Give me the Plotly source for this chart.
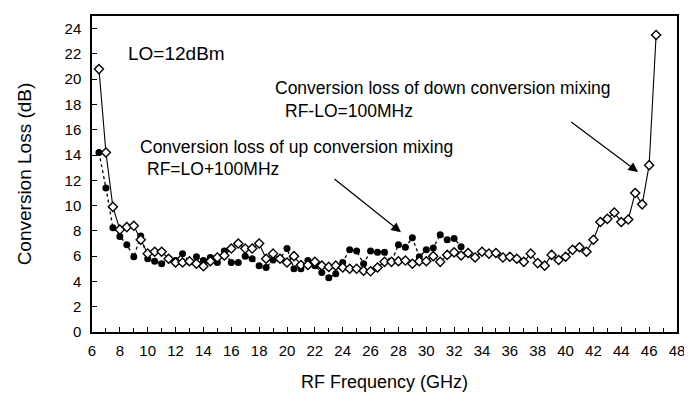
import plotly.graph_objects as go

# RF frequency (GHz)
freq_down = [6.5, 7.0, 7.5, 8.0, 8.5, 9.0, 9.5, 10.0, 10.5, 11.0, 11.5, 12.0, 12.5, 13.0, 13.5,
             14.0, 14.5, 15.0, 15.5, 16.0, 16.5, 17.0, 17.5, 18.0, 18.5, 19.0, 19.5, 20.0, 20.5,
             21.0, 21.5, 22.0, 22.5, 23.0, 23.5, 24.0, 24.5, 25.0, 25.5, 26.0, 26.5, 27.0, 27.5,
             28.0, 28.5, 29.0, 29.5, 30.0, 30.5, 31.0, 31.5, 32.0, 32.5, 33.0, 33.5, 34.0, 34.5,
             35.0, 35.5, 36.0, 36.5, 37.0, 37.5, 38.0, 38.5, 39.0, 39.5, 40.0, 40.5, 41.0, 41.5,
             42.0, 42.5, 43.0, 43.5, 44.0, 44.5, 45.0, 45.5, 46.0, 46.5]
loss_down = [20.8, 14.2, 9.9, 8.1, 8.3, 8.4, 7.3, 6.2, 6.35, 6.35, 5.8, 5.5, 5.5, 5.6, 5.4,
             5.2, 5.6, 5.9, 6.05, 6.6, 7.0, 6.6, 6.6, 7.0, 5.8, 6.2, 5.8, 5.5, 6.0,
             5.3, 5.3, 5.55, 5.25, 5.15, 5.25, 5.1, 5.0, 5.0, 4.85, 4.8, 5.1, 5.55, 5.55,
             5.6, 5.65, 5.4, 5.6, 5.6, 6.0, 5.55, 6.1, 6.3, 6.05, 6.25, 5.9, 6.35, 6.2,
             6.25, 5.9, 5.95, 5.8, 5.55, 6.2, 5.45, 5.25, 6.1, 5.7, 5.95, 6.5, 6.7, 6.35,
             7.3, 8.7, 8.95, 9.45, 8.7, 8.9, 11.0, 10.1, 13.2, 23.5]

freq_up = [6.5, 7.0, 7.5, 8.0, 8.5, 9.0, 9.5, 10.0, 10.5, 11.0, 11.5, 12.0, 12.5, 13.0, 13.5,
           14.0, 14.5, 15.0, 15.5, 16.0, 16.5, 17.0, 17.5, 18.0, 18.5, 19.0, 19.5, 20.0, 20.5,
           21.0, 21.5, 22.0, 22.5, 23.0, 23.5, 24.0, 24.5, 25.0, 25.5, 26.0, 26.5, 27.0, 27.5,
           28.0, 28.5, 29.0, 29.5, 30.0, 30.5, 31.0, 31.5, 32.0, 32.5]
loss_up = [14.2, 11.4, 8.25, 7.55, 6.9, 5.95, 7.6, 5.8, 5.6, 5.4, 5.8, 5.65, 6.2, 5.55, 5.95,
           5.65, 5.9, 5.5, 6.4, 5.5, 5.5, 6.0, 5.8, 5.25, 5.1, 5.7, 5.8, 6.6, 5.0,
           5.0, 5.65, 5.25, 4.7, 4.3, 4.6, 5.5, 6.5, 6.4, 5.4, 6.4, 6.3, 6.3, 5.55,
           6.9, 6.7, 7.45, 5.95, 6.5, 6.65, 7.7, 7.3, 7.4, 6.75]

x_ticks = list(range(6, 49, 2))
y_ticks = list(range(0, 25, 2))

FONT = "Arial, Liberation Sans, sans-serif"

fig = go.Figure()
fig.add_trace(go.Scatter(
    x=freq_up, y=loss_up, mode="lines+markers",
    line=dict(color="black", width=1.3, dash="dot"),
    marker=dict(symbol="circle", size=7, color="black"),
    showlegend=False))
fig.add_trace(go.Scatter(
    x=freq_down, y=loss_down, mode="lines+markers",
    line=dict(color="black", width=1.1),
    marker=dict(symbol="diamond", size=7, color="white", line=dict(color="black", width=1.4)),
    showlegend=False))

text_font = dict(family=FONT, size=17.5, color="black")
annots = [
    dict(x=8.44, y=22.07, text="LO=12dBm", font=dict(family=FONT, size=19, color="black")),
    dict(x=19.0, y=19.3, text="Conversion loss of down conversion mixing", font=text_font),
    dict(x=19.7, y=17.5, text="RF-LO=100MHz", font=text_font),
    dict(x=9.3, y=14.6, text="Conversion loss of up conversion mixing", font=text_font),
    dict(x=9.8, y=12.9, text="RF=LO+100MHz", font=text_font),
]
for a in annots:
    fig.add_annotation(xref="x", yref="y", showarrow=False, xanchor="left", yanchor="middle", **a)

arrows = [
    dict(x=45.2, y=12.66, ax=40.3, ay=16.7),
    dict(x=28.18, y=7.9, ax=23.3, ay=12.2),
]
for a in arrows:
    fig.add_annotation(xref="x", yref="y", axref="x", ayref="y", text="", showarrow=True,
                       arrowhead=2, arrowsize=1.6, arrowwidth=1.2, arrowcolor="black", **a)

fig.update_layout(
    width=692, height=405,
    margin=dict(l=84, r=23, t=8, b=81),
    paper_bgcolor="white", plot_bgcolor="white",
    font=dict(family=FONT, size=15, color="black"),
    xaxis=dict(
        range=[6, 48], tickvals=x_ticks, ticks="inside", ticklen=5, tickcolor="black",
        showline=True, linecolor="black", linewidth=1.5, mirror=True, showgrid=False,
        zeroline=False, tickfont=dict(size=15), automargin=False, ticklabelstandoff=4,
        minor=dict(dtick=1, tick0=6, ticks="inside", ticklen=4, tickcolor="black", showgrid=False),
        title=dict(text="RF Frequency (GHz)", font=dict(size=18), standoff=18)),
    yaxis=dict(
        range=[0, 25], tickvals=y_ticks, ticks="inside", ticklen=5, tickcolor="black",
        showline=True, linecolor="black", linewidth=1.5, mirror=True, showgrid=False,
        zeroline=False, tickfont=dict(size=15), automargin=False, ticklabelstandoff=6,
        title=dict(text="Conversion Loss (dB)", font=dict(size=19), standoff=28)),
)

fig.write_html("out.html")
